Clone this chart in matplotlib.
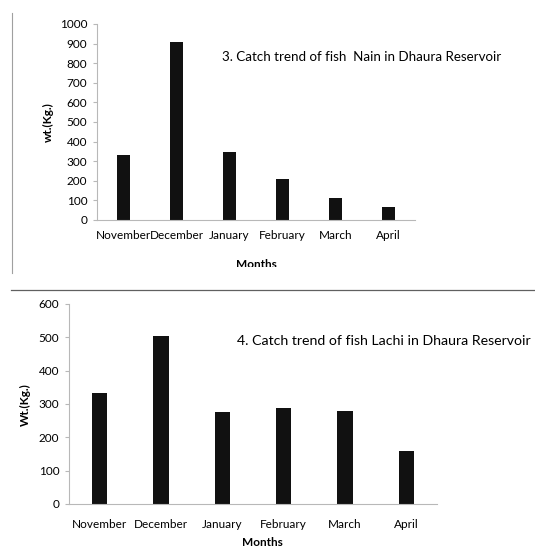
import matplotlib.pyplot as plt
from matplotlib.patches import Rectangle
from matplotlib.lines import Line2D

# Monthly catch (kg) for two species in Dhaura Reservoir
months = ["November", "December", "January", "February", "March", "April"]
nain_catch = [332, 906, 349, 207, 114, 68]
lachi_catch = [334, 504, 276, 289, 278, 158]

plt.rcParams["font.family"] = ["Lato", "DejaVu Sans"]

W, H = 535, 550
fig = plt.figure(figsize=(W / 100, H / 100), dpi=100)


def px_axes(left, top, right, bottom):
    # axes rectangle given in pixel coordinates (origin top-left)
    return fig.add_axes([left / W, 1 - bottom / H, (right - left) / W, (bottom - top) / H])


def style_axes(ax, ymax, step, xpad):
    ax.set_xlim(-0.5, len(months) - 0.5)
    ax.set_ylim(0, ymax)
    ax.set_yticks(range(0, ymax + 1, step))
    ax.set_xticks(range(len(months)))
    ax.set_xticklabels(months)
    for side in ("top", "right"):
        ax.spines[side].set_visible(False)
    for side in ("left", "bottom"):
        ax.spines[side].set_color("#b8b8b8")
        ax.spines[side].set_linewidth(0.8)
    ax.tick_params(axis="y", length=3, color="#b8b8b8", pad=4, labelsize=8.5)
    ax.tick_params(axis="x", length=0, pad=xpad, labelsize=8.5)


# 3. Nain
ax1 = px_axes(97, 24, 415, 220)
ax1.bar(range(len(months)), nain_catch, width=0.25, color="#111111")
style_axes(ax1, 1000, 100, 7)
fig.text(222 / W, 1 - 57 / H, "3. Catch trend of fish  Nain in Dhaura Reservoir",
         fontsize=9.6, va="center", ha="left")
fig.text(48 / W, 1 - 122 / H, "wt.(Kg.)", rotation=90, fontsize=8.5,
         fontweight="bold", ha="center", va="center")
fig.text(256 / W, 1 - 265 / H, "Months", fontsize=8.5, fontweight="bold",
         ha="center", va="center")

# 4. Lachi
ax2 = px_axes(69, 304, 437, 504)
ax2.bar(range(len(months)), lachi_catch, width=0.25, color="#111111")
style_axes(ax2, 600, 100, 11)
fig.text(237 / W, 1 - 341 / H, "4. Catch trend of fish Lachi in Dhaura Reservoir",
         fontsize=10.2, va="center", ha="left")
fig.text(25 / W, 1 - 405 / H, "Wt.(Kg.)", rotation=90, fontsize=8.5,
         fontweight="bold", ha="center", va="center")
fig.text(262 / W, 1 - 543 / H, "Months", fontsize=8.5, fontweight="bold",
         ha="center", va="center")

# page frame lines and the cut-off strip under the first chart
fig.add_artist(Rectangle((12 / W, 1 - 280 / H), 1, 13 / H, transform=fig.transFigure,
                         facecolor="white", edgecolor="none", zorder=5))
fig.add_artist(Line2D([12 / W, 12 / W], [1 - 13 / H, 1 - 273 / H], color="#a0a0a0",
                      linewidth=0.8, zorder=6))
fig.add_artist(Line2D([11 / W, 1], [1 - 290 / H, 1 - 290 / H], color="#606060",
                      linewidth=0.9, zorder=6))

fig.savefig("out.png", dpi=100)
